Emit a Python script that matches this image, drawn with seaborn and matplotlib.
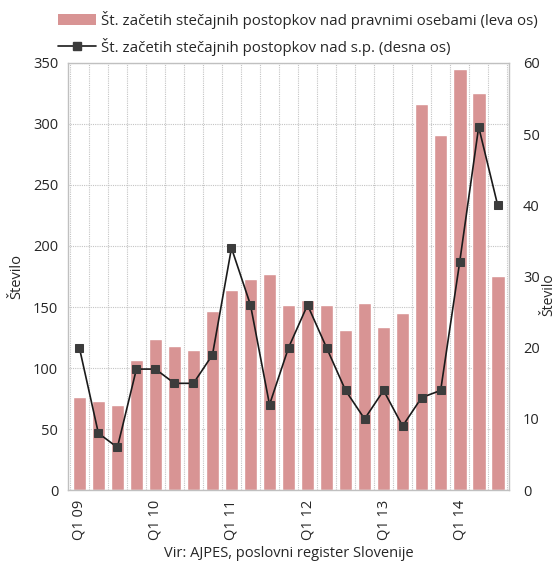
import numpy as np
import pandas as pd
import matplotlib
matplotlib.use("Agg")
import matplotlib.pyplot as plt
from matplotlib.patches import Patch
from matplotlib.lines import Line2D
import seaborn as sns

# Quarterly data, Q1 2009 - Q3 2014
quarters = [f"Q{q} {y:02d}" for y in range(9, 15) for q in range(1, 5)][:23]
legal_entities = [76, 73, 70, 107, 124, 118, 115, 147, 164, 173, 177, 152,
                  156, 152, 131, 153, 134, 145, 316, 291, 345, 325, 175]
sole_traders = [20, 8, 6, 17, 17, 15, 15, 19, 34, 26, 12, 20,
                26, 20, 14, 10, 14, 9, 13, 14, 32, 51, 40]
tick_labels = ["Q1 09", "Q1 10", "Q1 11", "Q1 12", "Q1 13", "Q1 14"]

label_bars = "Št. začetih stečajnih postopkov nad pravnimi osebami (leva os)"
label_line = "Št. začetih stečajnih postopkov nad s.p. (desna os)"
source = "Vir: AJPES, poslovni register Slovenije"

df = pd.DataFrame({"q": quarters, "idx": np.arange(len(quarters)),
                   "bars": legal_entities, "line": sole_traders})

sns.set_style("white")
plt.rcParams["font.family"] = ["Open Sans", "DejaVu Sans"]
plt.rcParams["font.size"] = 10.5

bar_color = "#d89494"
line_color = "#1a1a1a"
marker_color = "#3c3c3c"
grid_color = "#c4c4c4"

fig = plt.figure(figsize=(5.57, 5.66), dpi=100)
ax = fig.add_axes([0.122, 0.134, 0.792, 0.755])

sns.barplot(data=df, x="q", y="bars", order=quarters, color=bar_color,
            saturation=1, width=0.72, ax=ax, zorder=2)
ax.set_ylim(0, 350)
ax.set_yticks(np.arange(0, 351, 50))
ax.set_xlim(-0.6, len(quarters) - 0.4)

# x ticks only at each Q1
pos = [quarters.index(t) for t in tick_labels]
ax.set_xticks(pos)
ax.set_xticklabels(tick_labels, rotation=90)
ax.set_xticks(np.arange(-0.5, len(quarters), 1), minor=True)
ax.tick_params(axis="both", which="both", length=0, labelsize=10.5, pad=7)
ax.set_xlabel(source, fontsize=10.5, labelpad=4)
ax.set_ylabel("Število", fontsize=10.5, labelpad=6)

ax.grid(False)
ax.yaxis.grid(True, linestyle=(0, (1, 1)), color=grid_color, linewidth=0.8)
ax.xaxis.grid(True, which="minor", linestyle=(0, (1, 1)), color=grid_color, linewidth=0.8)
ax.set_axisbelow(True)
for s in ax.spines.values():
    s.set_color("#c0c0c0")
    s.set_linewidth(1.0)

ax2 = ax.twinx()
sns.lineplot(data=df, x="idx", y="line", ax=ax2, color=line_color, linewidth=1.2,
             marker="s", markersize=5.5, markerfacecolor=marker_color,
             markeredgecolor=marker_color, zorder=3)
ax2.set_ylim(0, 60)
ax2.set_yticks(np.arange(0, 61, 10))
ax2.tick_params(axis="y", length=0, labelsize=10.5, pad=10)
ax2.set_ylabel("")
ax2.set_xlabel("")
ax2.set_xlim(-0.6, len(quarters) - 0.4)
for s in ax2.spines.values():
    s.set_visible(False)

fig.text(0.986, 0.48, "Število", rotation=90, ha="center", va="center", fontsize=10)

handles = [Patch(facecolor=bar_color, edgecolor="none"),
           Line2D([0], [0], color=line_color, linewidth=1.2, marker="s",
                  markersize=5.5, markerfacecolor=marker_color, markeredgecolor=marker_color)]
fig.legend(handles, [label_bars, label_line], loc="upper left",
           bbox_to_anchor=(0.08, 1.005), frameon=False, fontsize=10.8,
           handlelength=2.5, handletextpad=0.35, labelspacing=0.6)

fig.savefig("out.png", dpi=100)
